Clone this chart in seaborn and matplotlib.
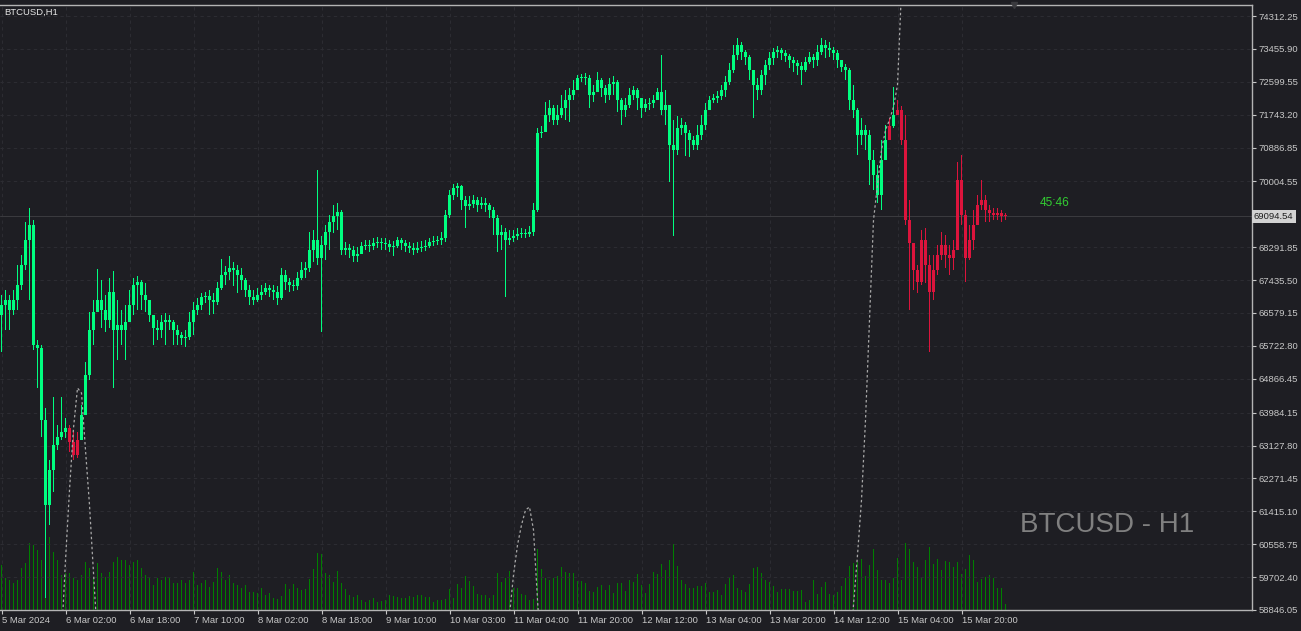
import matplotlib

matplotlib.use("Agg")

import matplotlib.pyplot as plt
import matplotlib.transforms as mtransforms
import numpy as np
import pandas as pd
import seaborn as sns

BG = "#1e1e23"
GREEN = "#00ff80"
RED = "#dc143c"
VOL_GREEN = "#008000"
AXIS_TEXT = "#c8c8c8"
GRID = "#2c2c32"

# BTCUSD H1 bars, 5 Mar 10:00 -> 16 Mar 07:00 (prices)
first_open = 66530
close = [
    66787, 66917, 66657, 66917, 67308, 67828, 68479, 68870, 65745, 65667,
    63792, 61579, 62490, 63141, 63350, 63480, 63584, 63219, 62881, 63271,
    63922, 64964, 66136, 66605, 66917, 66657, 66396, 67125, 66136, 66266,
    66136, 66344, 66787, 67308, 67386, 67047, 66917, 66526, 66188, 66136,
    66344, 66396, 66344, 66136, 66006, 65927, 65954, 66344, 66657, 66787,
    66995, 67021, 66917, 66865, 67229, 67568, 67646, 67750, 67698, 67568,
    67438, 67177, 66995, 66917, 67047, 67125, 67229, 67177, 67125, 66969,
    67568, 67386, 67308, 67282, 67490, 67698, 67750, 68219, 68479, 68011,
    68349, 68688, 68948, 69104, 69209, 68219, 68271, 68219, 68063, 68115,
    68323, 68349, 68323, 68401, 68427, 68401, 68375, 68297, 68323, 68479,
    68401, 68323, 68271, 68219, 68271, 68297, 68323, 68427, 68453, 68479,
    68531, 69130, 69651, 69833, 69886, 69521, 69365, 69417, 69521, 69391,
    69443, 69391, 69261, 69052, 68610, 68688, 68479, 68531, 68584, 68636,
    68662, 68636, 68688, 69261, 71266, 71292, 71734, 71917, 71604, 71734,
    71917, 72125, 72255, 72385, 72698, 72724, 72698, 72255, 72333, 72646,
    72437, 72255, 72542, 72594, 72125, 71865, 71995, 72255, 72385, 72177,
    71917, 72021, 72047, 72125, 72333, 71865, 71995, 70953, 70823, 71396,
    71474, 71266, 71083, 70953, 71214, 71474, 71865, 72125, 72177, 72229,
    72385, 72594, 72906, 73297, 73557, 73375, 73245, 72906, 72516, 72385,
    72776, 73036, 73219, 73375, 73427, 73349, 73271, 73167, 73088, 73010,
    72906, 73115, 73245, 73167, 73375, 73557, 73479, 73427, 73349, 73167,
    72984, 72906, 72125, 71865, 71214, 71344, 71214, 70563, 70172, 69651,
    70563, 71083, 71448, 71734, 71865, 71083, 69000, 68401, 67698, 67386,
    68479, 67828, 67125, 67698, 68089, 68349, 68089, 68011, 68219, 70042,
    69130, 68011, 68479, 68870, 69391, 69521, 69261, 69182, 69130, 69182,
    69104, 69094.54,
]
high = [
    67047, 67177, 67047, 67177, 67828, 68089, 68948, 69313, 69000, 65875,
    65745, 64105, 62751, 64391, 63662, 64391, 63844, 63662, 63532, 63480,
    64183, 65303, 66605, 66917, 67724, 67438, 67047, 67490, 67672, 66917,
    66657, 66787, 67177, 67490, 67542, 67438, 67360, 66917, 66526, 66396,
    66526, 66578, 66526, 66396, 66266, 66084, 66136, 66605, 66865, 66969,
    67099, 67125, 67177, 67099, 67386, 67985, 67802, 68063, 67907, 67828,
    67750, 67490, 67308, 67177, 67229, 67308, 67360, 67308, 67308, 67282,
    67750, 67698, 67490, 67438, 67646, 67907, 67907, 68688, 68740, 70302,
    68584, 68870, 69130, 69391, 69443, 69261, 68427, 68375, 68323, 68297,
    68427, 68479, 68479, 68531, 68558, 68531, 68531, 68479, 68453, 68558,
    68531, 68479, 68427, 68401, 68427, 68453, 68479, 68531, 68584, 68584,
    68688, 69261, 69781, 69938, 69964, 69912, 69625, 69625, 69651, 69599,
    69599, 69573, 69443, 69339, 69130, 68870, 68792, 68740, 68740, 68792,
    68792, 68766, 68844, 69443, 71396, 71448, 72073, 72125, 71995, 71995,
    72255, 72385, 72437, 72646, 72776, 72802, 72828, 72776, 72516, 72854,
    72698, 72516, 72698, 72750, 72646, 72177, 72177, 72437, 72490, 72437,
    72177, 72151, 72177, 72255, 72437, 73297, 72385, 71995, 71604, 71708,
    71656, 71552, 71344, 71188, 71474, 71734, 72047, 72229, 72281, 72359,
    72516, 72750, 73088, 73557, 73739, 73635, 73427, 73297, 72906, 72698,
    72906, 73167, 73375, 73479, 73531, 73479, 73427, 73323, 73245, 73167,
    73115, 73245, 73375, 73323, 73557, 73739, 73687, 73635, 73505, 73427,
    73167, 73062, 72958, 72516, 71917, 71656, 71474, 71344, 70823, 70432,
    71083, 71474, 71656, 72464, 72125, 71969, 71734, 69521, 68401, 67828,
    68740, 68792, 68089, 68089, 68349, 68688, 68610, 68349, 68479, 70511,
    70693, 69261, 68870, 69261, 69651, 70042, 69651, 69391, 69313, 69313,
    69261, 69182,
]
low = [
    65563, 66136, 66136, 66526, 66657, 67177, 67698, 66917, 65615, 64625,
    63350, 59157, 61058, 61917, 63011, 63271, 63323, 62959, 62751, 62803,
    63271, 64365, 64834, 65745, 66657, 66188, 66084, 66188, 64625, 65355,
    65745, 65355, 66396, 66526, 66657, 66657, 66605, 66344, 65745, 65875,
    65927, 65745, 66136, 65745, 65745, 65745, 65693, 65875, 66006, 66526,
    66657, 66839, 66526, 66552, 66787, 67177, 67308, 67438, 67282, 67099,
    67177, 66995, 66787, 66787, 66865, 66917, 67047, 66995, 66917, 66787,
    66917, 67177, 67125, 67151, 67177, 67438, 67490, 67646, 67907, 67828,
    66084, 67959, 68219, 68662, 68740, 68089, 68089, 68011, 67907, 67907,
    68141, 68219, 68167, 68219, 68271, 68219, 68219, 68167, 68063, 68271,
    68219, 68167, 68141, 68089, 68141, 68167, 68193, 68271, 68323, 68349,
    68349, 68427, 69052, 69521, 69599, 69261, 68792, 69261, 69313, 69209,
    69287, 69209, 69052, 68610, 68167, 68219, 66995, 68349, 68427, 68479,
    68531, 68531, 68558, 68584, 69209, 71135, 71474, 71552, 71474, 71474,
    71656, 71604, 71552, 72125, 72437, 72594, 72516, 71917, 72073, 72385,
    72203, 72047, 72125, 72255, 71813, 71474, 71682, 71917, 72125, 71865,
    71656, 71813, 71865, 71917, 72125, 71734, 71474, 69990, 68584, 70693,
    71214, 70667, 70641, 70823, 70823, 71083, 71344, 71865, 72047, 72047,
    72125, 72203, 72516, 72828, 73167, 73167, 73036, 72646, 71656, 72125,
    72255, 72516, 72906, 73036, 73219, 73167, 73115, 72958, 72854, 72776,
    72516, 72854, 73062, 72958, 73010, 73297, 73219, 73245, 73167, 72958,
    72854, 72646, 71865, 71656, 70693, 70953, 70823, 69912, 69781, 69443,
    69261, 70563, 71344, 71396, 71734, 70953, 68870, 66657, 67177, 67099,
    67308, 67360, 65563, 66917, 67568, 67959, 67750, 67568, 67698, 68479,
    68870, 67386, 67959, 68219, 68870, 69261, 68948, 68948, 69000, 69000,
    68948, 69000,
]
# tick volume (hundreds of ticks)
volume = [
    45, 32, 30, 27, 30, 42, 47, 67, 65, 60,
    50, 68, 73, 58, 50, 35, 37, 37, 32, 30,
    35, 48, 42, 32, 47, 37, 33, 38, 48, 53,
    50, 50, 45, 48, 50, 42, 35, 32, 25, 32,
    30, 33, 33, 27, 27, 30, 27, 30, 38, 25,
    27, 30, 23, 28, 42, 38, 30, 35, 27, 25,
    22, 25, 18, 18, 17, 22, 15, 17, 12, 11,
    14, 26, 21, 26, 22, 20, 21, 31, 41, 57,
    56, 37, 35, 28, 39, 27, 21, 15, 13, 15,
    10, 8, 10, 12, 8, 9, 10, 15, 14, 13,
    12, 12, 14, 13, 15, 15, 13, 13, 8, 10,
    10, 11, 21, 12, 26, 22, 34, 29, 24, 16,
    15, 15, 12, 15, 37, 28, 32, 39, 22, 22,
    16, 15, 10, 11, 61, 41, 32, 30, 32, 34,
    43, 38, 37, 37, 29, 29, 27, 19, 18, 23,
    25, 20, 25, 17, 27, 27, 19, 30, 28, 36,
    25, 17, 26, 38, 36, 46, 40, 50, 66, 44,
    30, 26, 22, 22, 24, 24, 27, 18, 18, 20,
    15, 26, 33, 35, 22, 20, 18, 26, 42, 43,
    37, 30, 28, 24, 18, 21, 21, 21, 19, 19,
    20, 8, 10, 30, 16, 23, 28, 16, 15, 18,
    24, 32, 44, 47, 48, 51, 34, 45, 61, 40,
    30, 30, 27, 32, 52, 30, 67, 61, 48, 43,
    32, 50, 63, 46, 51, 40, 49, 48, 43, 48,
    36, 41, 55, 50, 28, 31, 33, 35, 32, 22,
    22, 6,
]
# bars painted red by the signal indicator (first, last index)
sell_runs = [(17, 19), (222, 222), (224, 251)]

# dotted indicator line: (first bar, values)
dotted_segments = [
    (15, [58063, 60147, 61969, 63584, 64625, 64495, 63011, 61579, 59808, 58063]),
    (126, [57543, 58714, 59756, 60537, 61058, 61449, 61527, 60928, 59105, 57543]),
    (212, [57543, 58975, 60277, 61709, 63792, 66396, 69000, 69912, 70823,
           71344, 71604, 71943, 72516, 74989]),
]

time_ticks = [0, 16, 32, 48, 64, 80, 96, 112, 128, 144, 160, 176, 192, 208, 224, 240]
time_labels = [
    "5 Mar 2024", "6 Mar 02:00", "6 Mar 18:00", "7 Mar 10:00", "8 Mar 02:00",
    "8 Mar 18:00", "9 Mar 10:00", "10 Mar 03:00", "11 Mar 04:00", "11 Mar 20:00",
    "12 Mar 12:00", "13 Mar 04:00", "13 Mar 20:00", "14 Mar 12:00", "15 Mar 04:00",
    "15 Mar 20:00",
]
price_labels = [
    "74312.25", "73455.90", "72599.55", "71743.20", "70886.85", "70004.55",
    "68291.85", "67435.50", "66579.15", "65722.80", "64866.45", "63984.15",
    "63127.80", "62271.45", "61415.10", "60558.75", "59702.40", "58846.05",
]

sns.set_theme(
    style="dark",
    rc={
        "figure.facecolor": BG,
        "axes.facecolor": BG,
        "axes.edgecolor": "#b4b4b4",
        "grid.color": GRID,
        "xtick.color": AXIS_TEXT,
        "ytick.color": AXIS_TEXT,
        "text.color": AXIS_TEXT,
    },
)
plt.rcParams["font.family"] = ["Liberation Sans", "DejaVu Sans"]

bars = pd.DataFrame({"close": close, "high": high, "low": low, "volume": volume})
bars["open"] = bars["close"].shift(1).fillna(first_open)
bars["high"] = bars[["high", "open", "close"]].max(axis=1)
bars["low"] = bars[["low", "open", "close"]].min(axis=1)
bars["sell"] = False
for a, b in sell_runs:
    bars.loc[a:b, "sell"] = True
colors = np.where(bars["sell"], RED, GREEN)
x = bars.index.to_numpy()

fig = plt.figure(figsize=(13.01, 6.31), dpi=100)
rect = [0, 21 / 631, 1252 / 1301, 605 / 631]

# volume lives on its own axes underneath the price axes
vax = fig.add_axes(rect)
vax.set_facecolor(BG)
vax.bar(x, bars["volume"], width=0.25, color=VOL_GREEN, linewidth=0, antialiased=False)
vax.set_ylim(0, 605)
vax.set_yticks([])
vax.grid(False)
for s in vax.spines.values():
    s.set_visible(False)

ax = fig.add_axes(rect, sharex=vax)
ax.set_facecolor("none")
ax.set_xlim(-0.375, 312.625)  # 4 px per bar
ax.set_ylim(58845, 74599)

ax.axhline(close[-1], color="#3a3a3e", lw=0.72, zorder=1)

# wicks and bodies as thin / wide bars so they land on whole pixels
ax.bar(x, bars["high"] - bars["low"], bottom=bars["low"], width=0.25, color=colors,
       linewidth=0, antialiased=False, zorder=3)
body_lo = bars[["open", "close"]].min(axis=1)
body_h = (bars["close"] - bars["open"]).abs().clip(lower=26)
ax.bar(x, body_h, bottom=body_lo, width=0.75, color=colors, linewidth=0,
       antialiased=False, zorder=3)

dots = pd.DataFrame(
    [(start + k, v, n) for n, (start, vals) in enumerate(dotted_segments) for k, v in enumerate(vals)],
    columns=["bar", "value", "seg"],
)
sns.lineplot(
    data=dots, x="bar", y="value", units="seg", estimator=None, ax=ax,
    color="#a8a8a8", lw=0.9, linestyle=(0, (2, 2)), legend=False, zorder=4,
)
ax.set_xlabel("")
ax.set_ylabel("")

ax.set_xticks(time_ticks)
ax.set_xticklabels(time_labels)
for lbl in ax.get_xticklabels():
    lbl.set_horizontalalignment("left")
ax.set_yticks([float(p) for p in price_labels])
ax.set_yticklabels(price_labels)
ax.yaxis.tick_right()
ax.tick_params(axis="x", bottom=True, length=3, width=0.8, pad=1.5, labelsize=6.8, labelcolor=AXIS_TEXT)
ax.tick_params(axis="y", right=True, left=False, length=3, width=0.8, pad=1.5, labelsize=6.8, labelcolor=AXIS_TEXT)
vax.tick_params(axis="x", bottom=False, labelbottom=False)
ax.grid(True, color=GRID, linestyle=(0, (3, 3)), lw=0.8)

ax.spines["left"].set_visible(False)
for side in ["right", "top", "bottom"]:
    ax.spines[side].set_color("#b4b4b4")
    ax.spines[side].set_linewidth(1)

# current price tag on the price scale
tag = mtransforms.blended_transform_factory(ax.transAxes, ax.transData)
ax.text(1.0015, close[-1], f"{close[-1]:.2f}", transform=tag, ha="left", va="center",
        fontsize=6.8, color="#1e1e1e",
        bbox=dict(boxstyle="square,pad=0.25", fc="#d2d2d2", ec="none"), clip_on=False)

ax.plot([253], [74599], marker="v", ms=5, color="#3a3a3e", clip_on=False, zorder=5)

ax.text(259.5, 69443, "45:46", color="#32cd32", fontsize=8.6, va="center")
fig.text(4 / 1301, 1 - 12 / 631, "BTCUSD,H1", color="#e6e6e6", fontsize=6.8, va="center")
fig.text(1020 / 1301, 1 - 525 / 631, "BTCUSD - H1", color="#808080", fontsize=20, va="center")

fig.savefig("out.png", dpi=100, facecolor=BG)
plt.close(fig)
